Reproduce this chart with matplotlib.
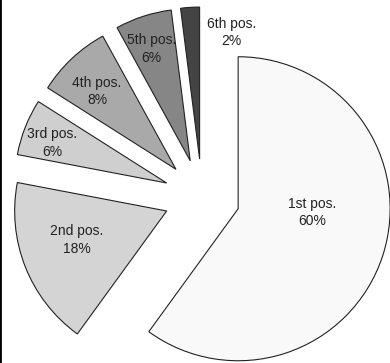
import numpy as np
import matplotlib
matplotlib.use("Agg")
import matplotlib.pyplot as plt

labels = ["1st pos.", "2nd pos.", "3rd pos.", "4th pos.", "5th pos.", "6th pos."]
shares = [60, 18, 6, 8, 6, 2]
colors = ["#f9f9f9", "#d4d4d4", "#cfcfcf", "#a9a9a9", "#868686", "#444444"]

# label placement relative to each wedge apex: (radius fraction, angle shift in deg)
label_dist = [0.49, 0.62, 0.80, 0.73, 0.78, 0.86]
label_shift = [15.0, -3.7, 2.4, 2.2, 1.2, -17.7]

plt.rcParams["font.family"] = ["Liberation Sans", "DejaVu Sans"]

fig = plt.figure(figsize=(3.9, 3.63), dpi=100)
ax = fig.add_axes([0, 0, 1, 1])

wedges, _ = ax.pie(
    shares,
    colors=colors,
    startangle=90,
    counterclock=False,
    explode=[0.25] * len(shares),
    radius=1.0,
    wedgeprops=dict(edgecolor="#222222", linewidth=0.8),
)

for w, lab, val, d, s in zip(wedges, labels, shares, label_dist, label_shift):
    mid = np.deg2rad((w.theta1 + w.theta2) / 2 + s)
    cx, cy = w.center
    ax.text(cx + d * np.cos(mid), cy + d * np.sin(mid), f"{lab}\n{val}%",
            ha="center", va="center", fontsize=10, linespacing=1.3,
            color="#222222")

# pie centre at pixel (202, 197), radius 152 px
r_px = 152.0
ax.set_xlim(-202 / r_px, (390 - 202) / r_px)
ax.set_ylim(-(363 - 197) / r_px, 197 / r_px)
ax.set_aspect("auto")
ax.axis("off")

fig.add_artist(plt.Line2D([0, 0], [0, 1], transform=fig.transFigure,
                          color="black", linewidth=2))

fig.savefig("out.png", dpi=100)
